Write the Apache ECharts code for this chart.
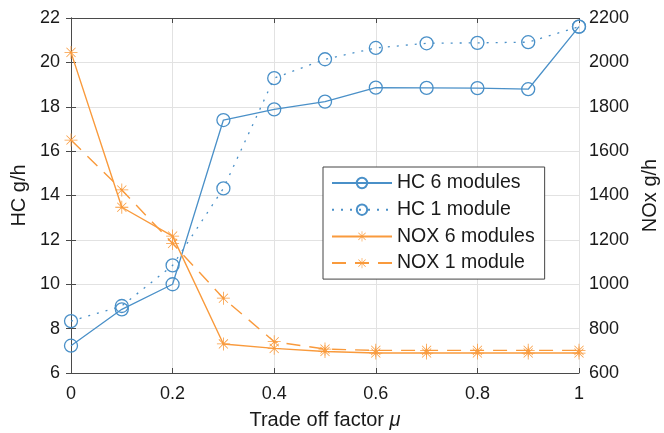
<!DOCTYPE html>
<html>
<head>
<meta charset="utf-8">
<script src="https://cdn.jsdelivr.net/npm/echarts@6/dist/echarts.min.js"></script>
<style>html,body{margin:0;padding:0;background:#fff;}#c{width:664px;height:433px;}</style>
</head>
<body>
<div id="c"></div>
<script>
// ---- data ----
var xValues = [0, 0.1, 0.2, 0.3, 0.4, 0.5, 0.6, 0.7, 0.8, 0.9, 1.0];
var hc6 = [7.23, 8.87, 10.0, 17.4, 17.88, 18.23, 18.86, 18.85, 18.84, 18.79, 21.61];
var hc1 = [8.34, 9.02, 10.85, 14.32, 19.29, 20.14, 20.65, 20.86, 20.88, 20.91, 21.61];
var nox6 = [2045, 1347, 1217, 731, 711, 697, 690, 690, 690, 690, 690];
var nox1 = [1650, 1425, 1184, 937, 741, 708, 702, 702, 702, 702, 702];
var seriesNames = ['HC 6 modules', 'HC 1 module', 'NOX 6 modules', 'NOX 1 module'];
var xLabel = 'Trade off factor ';
var yLeftLabel = 'HC g/h';
var yRightLabel = 'NOx g/h';

function pairs(xs, ys) { return xs.map(function (x, i) { return [x, ys[i]]; }); }

var FONT = 'Liberation Sans, Arial, Helvetica, sans-serif';
var BLUE = '#4a90c8';
var ORANGE = '#f99a3c';
var AXIS = '#4a4a4a';
var TXT = '#1a1a1a';
var TICK_FS = 18;
var NAME_FS = 20;
var star = 'path://M47 0L53 0L53 100L47 100Z M0 47L100 47L100 53L0 53Z M17.1 12.9L87.1 82.9L82.9 87.1L12.9 17.1Z M82.9 12.9L87.1 17.1L17.1 87.1L12.9 82.9Z';
function plain(v) { return String(Math.round(v * 1000) / 1000); }

var chart = echarts.init(document.getElementById('c'), null, {renderer: 'canvas'});

function hcSeries(name, data, type) {
  return {
    name: name, type: 'line', xAxisIndex: 0, yAxisIndex: 0,
    data: data, symbol: 'circle', symbolSize: 13,
    lineStyle: {color: BLUE, width: 1.3, type: type},
    itemStyle: {color: 'rgba(255,255,255,0)', borderColor: BLUE, borderWidth: 1.3},
    emphasis: {disabled: true}
  };
}
function noxSeries(name, data, type) {
  return {
    name: name, type: 'line', xAxisIndex: 0, yAxisIndex: 1,
    data: data, symbol: star, symbolSize: 13,
    lineStyle: {color: ORANGE, width: 1.4, type: type},
    itemStyle: {color: ORANGE},
    emphasis: {disabled: true}
  };
}

var option = {
  animation: false,
  backgroundColor: '#fff',
  textStyle: {fontFamily: FONT},
  grid: {left: 71, right: 85, top: 18, bottom: 60, containLabel: false, outerBoundsMode: 'none'},
  legend: {
    orient: 'vertical', left: 323, top: 167,
    backgroundColor: '#fff', borderColor: '#444', borderWidth: 1,
    padding: [6, 10, 6, 8],
    itemWidth: 60, itemHeight: 13, itemGap: 6.7,
    textStyle: {fontSize: 19.5, color: TXT, fontFamily: FONT, lineHeight: 20},
    data: seriesNames
  },
  xAxis: [{
    type: 'value', position: 'bottom', min: 0, max: 1, interval: 0.2,
    name: xLabel + '{i|μ}', nameLocation: 'middle', nameGap: 37,
    nameTextStyle: {fontSize: NAME_FS, color: TXT, fontFamily: FONT,
      rich: {i: {fontStyle: 'italic', fontSize: NAME_FS, fontFamily: FONT, color: TXT}}},
    axisLine: {show: true, lineStyle: {color: AXIS, width: 1}},
    axisTick: {show: true, inside: true, length: 5, lineStyle: {color: AXIS}},
    axisLabel: {fontSize: TICK_FS, color: TXT, margin: 12, fontFamily: FONT, formatter: plain},
    splitLine: {show: true, lineStyle: {color: '#e2e2e2', width: 1}}
  }, {
    type: 'value', position: 'top', min: 0, max: 1, interval: 0.2,
    axisLine: {show: true, lineStyle: {color: AXIS, width: 1}},
    axisTick: {show: true, inside: true, length: 5, lineStyle: {color: AXIS}},
    axisLabel: {show: false},
    splitLine: {show: false}
  }],
  yAxis: [{
    type: 'value', position: 'left', min: 6, max: 22, interval: 2,
    name: yLeftLabel, nameLocation: 'middle', nameGap: 42, nameRotate: 90,
    nameTextStyle: {fontSize: NAME_FS, color: TXT, fontFamily: FONT},
    axisLine: {show: true, lineStyle: {color: AXIS, width: 1}},
    axisTick: {show: true, inside: true, length: 5, lineStyle: {color: AXIS}},
    axisLabel: {fontSize: TICK_FS, color: TXT, margin: 11, fontFamily: FONT, formatter: plain},
    splitLine: {show: true, lineStyle: {color: '#e2e2e2', width: 1}}
  }, {
    type: 'value', position: 'right', min: 600, max: 2200, interval: 200,
    name: yRightLabel, nameLocation: 'middle', nameGap: 61, nameRotate: 90,
    nameTextStyle: {fontSize: NAME_FS, color: TXT, fontFamily: FONT},
    axisLine: {show: true, lineStyle: {color: AXIS, width: 1}},
    axisTick: {show: true, inside: true, length: 5, lineStyle: {color: AXIS}},
    axisLabel: {fontSize: TICK_FS, color: TXT, margin: 10, fontFamily: FONT, formatter: plain},
    splitLine: {show: false}
  }],
  series: [
    hcSeries(seriesNames[0], pairs(xValues, hc6), 'solid'),
    hcSeries(seriesNames[1], pairs(xValues, hc1), [2, 7]),
    noxSeries(seriesNames[2], pairs(xValues, nox6), 'solid'),
    noxSeries(seriesNames[3], pairs(xValues, nox1), [14, 9])
  ]
};
chart.setOption(option);
</script>
</body>
</html>
